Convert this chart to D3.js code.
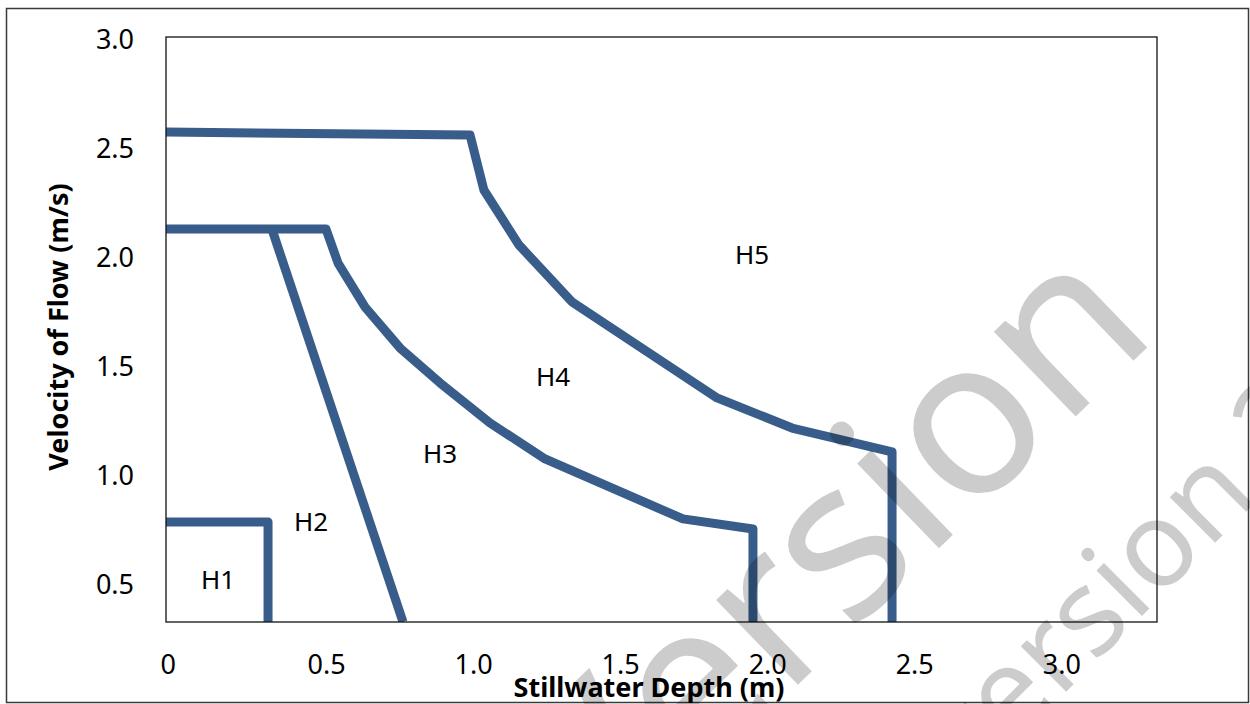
<!DOCTYPE html>
<html>
<head>
<meta charset="utf-8">
<script src="https://cdn.jsdelivr.net/npm/d3@7"></script>
<style>
  html, body { margin: 0; padding: 0; background: #fff; }
  svg { display: block; }
  text { font-family: "Noto Sans", "Open Sans", sans-serif; }
</style>
</head>
<body>
<svg id="chart" width="1250" height="704"></svg>
<script>
// ---------- data ----------
const xTickValues = [0, 0.5, 1.0, 1.5, 2.0, 2.5, 3.0];
const xTickLabels = ["0", "0.5", "1.0", "1.5", "2.0", "2.5", "3.0"];
const yTickValues = [0.5, 1.0, 1.5, 2.0, 2.5, 3.0];
const yTickLabels = ["0.5", "1.0", "1.5", "2.0", "2.5", "3.0"];

// boundary lines: depth (m) and velocity (m/s)
const h1Depth = [0, 0.347, 0.347];
const h1Vel   = [0.789, 0.789, 0.33];

const h2Depth = [0.360, 0.806];
const h2Vel   = [2.133, 0.33];

const h3Depth = [0, 0.544, 0.585, 0.677, 0.796, 0.932, 1.102, 1.289, 1.758, 1.996, 1.996];
const h3Vel   = [2.133, 2.133, 1.977, 1.775, 1.587, 1.427, 1.243, 1.078, 0.803, 0.757, 0.33];

const h4Depth = [0, 1.034, 1.081, 1.200, 1.381, 1.874, 2.129, 2.469, 2.469];
const h4Vel   = [2.578, 2.564, 2.312, 2.060, 1.798, 1.358, 1.220, 1.110, 0.33];

const zoneNames = ["H1", "H2", "H3", "H4", "H5"];
const zoneDepth = [0.177, 0.493, 0.932, 1.316, 1.993];
const zoneVel   = [0.523, 0.789, 1.101, 1.454, 2.014];

const xTitle = "Stillwater Depth (m)";
const yTitle = "Velocity of Flow (m/s)";

// ---------- layout ----------
const plot = { left: 166, top: 37, right: 1157, bottom: 622 };
const lineColor = "#385D8A";
const fontSize = 27;

const svg = d3.select("#chart");

const x = d3.scaleLinear().domain([0, 3.37]).range([plot.left, plot.right]);
const y = d3.scaleLinear().domain([0.33, 3.014]).range([plot.bottom, plot.top]);

// outer chart border
svg.append("rect")
  .attr("x", 6.5).attr("y", 8.5)
  .attr("width", 1242).attr("height", 694)
  .attr("fill", "#fff")
  .attr("stroke", "#3a3a3a").attr("stroke-width", 1.5);

// clip for the plot area
svg.append("defs").append("clipPath").attr("id", "plotClip")
  .append("rect")
  .attr("x", plot.left).attr("y", plot.top)
  .attr("width", plot.right - plot.left).attr("height", plot.bottom - plot.top);

// y axis
const yAxis = d3.axisLeft(y)
  .tickValues(yTickValues)
  .tickFormat((d, i) => yTickLabels[i])
  .tickSize(0).tickPadding(32);
const gy = svg.append("g").attr("transform", `translate(${plot.left},0)`).call(yAxis);
gy.select(".domain").remove();
gy.selectAll("text").attr("font-size", fontSize).attr("fill", "#000")
  .style("font-family", '"Noto Sans", sans-serif');

// x axis
const xAxis = d3.axisBottom(x)
  .tickValues(xTickValues)
  .tickFormat((d, i) => xTickLabels[i])
  .tickSize(0).tickPadding(33);
const gx = svg.append("g").attr("transform", `translate(0,${plot.bottom})`).call(xAxis);
gx.select(".domain").remove();
gx.selectAll("text").attr("font-size", fontSize).attr("fill", "#000")
  .attr("text-anchor", "start").attr("dx", -6)
  .style("font-family", '"Noto Sans", sans-serif');

// lines
const series = [
  { d: h1Depth, v: h1Vel },
  { d: h2Depth, v: h2Vel },
  { d: h3Depth, v: h3Vel },
  { d: h4Depth, v: h4Vel }
];
const line = d3.line().x(p => x(p[0])).y(p => y(p[1]));
const gl = svg.append("g").attr("clip-path", "url(#plotClip)");
series.forEach(s => {
  const pts = s.d.map((dv, i) => [dv, s.v[i]]);
  gl.append("path")
    .attr("d", line(pts))
    .attr("fill", "none")
    .attr("stroke", lineColor)
    .attr("stroke-width", 9)
    .attr("stroke-linejoin", "round")
    .attr("stroke-linecap", "butt");
});

// plot area border
svg.append("rect")
  .attr("x", plot.left).attr("y", plot.top)
  .attr("width", plot.right - plot.left).attr("height", plot.bottom - plot.top)
  .attr("fill", "none").attr("stroke", "#111").attr("stroke-width", 1.3);

// zone labels
svg.append("g").selectAll("text").data(zoneNames).join("text")
  .attr("x", (d, i) => x(zoneDepth[i]))
  .attr("y", (d, i) => y(zoneVel[i]))
  .attr("dy", "0.36em")
  .attr("text-anchor", "middle")
  .attr("font-size", 26)
  .attr("fill", "#000")
  .text(d => d);

// axis titles
svg.append("text")
  .attr("x", 649).attr("y", 697)
  .attr("text-anchor", "middle")
  .attr("font-size", fontSize).attr("font-weight", "bold")
  .text(xTitle);

svg.append("text")
  .attr("transform", "translate(68,327) rotate(-90)")
  .attr("text-anchor", "middle")
  .attr("font-size", fontSize).attr("font-weight", "bold")
  .text(yTitle);

// watermarks
svg.append("text")
  .attr("transform", "translate(1160,335) rotate(-44)")
  .attr("text-anchor", "end")
  .attr("font-size", 220)
  .attr("fill", "#000").attr("fill-opacity", 0.2)
  .text("Version");

svg.append("text")
  .attr("transform", "translate(968,790) rotate(-45)")
  .attr("text-anchor", "start")
  .attr("font-size", 120)
  .attr("fill", "#000").attr("fill-opacity", 0.2)
  .text("version 2");
</script>
</body>
</html>
